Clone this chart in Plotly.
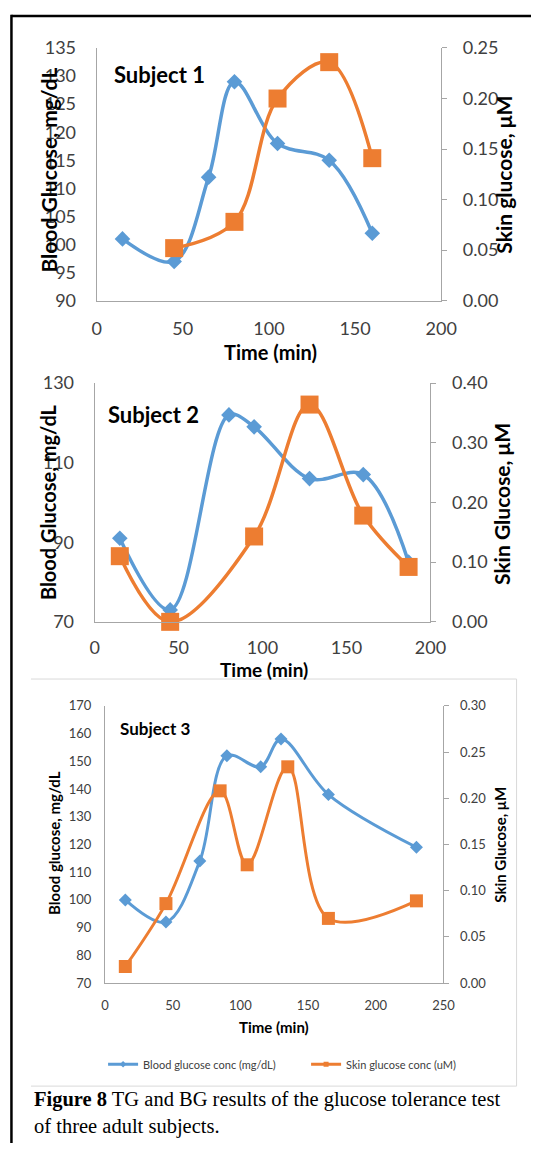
import plotly.graph_objects as go

W, H = 547, 1153

# ---------------- data ----------------
# Subject 1
s1_bg_time = [15, 45, 65, 80, 105, 135, 160]
s1_bg = [101, 97, 112, 129, 118, 115, 102]
s1_sg_time = [45, 80, 105, 135, 160]
s1_sg = [0.052, 0.078, 0.200, 0.236, 0.141]

# Subject 2
s2_bg_time = [15, 45, 80, 95, 128, 160, 187]
s2_bg = [91, 73, 122, 119, 106, 107, 85]
s2_sg_time = [15, 45, 95, 128, 160, 187]
s2_sg = [0.110, 0.000, 0.143, 0.364, 0.178, 0.092]

# Subject 3
s3_bg_time = [15, 45, 70, 90, 115, 130, 165, 230]
s3_bg = [100, 92, 114, 152, 148, 158, 138, 119]
s3_sg_time = [15, 45, 85, 105, 135, 165, 230]
s3_sg = [0.018, 0.086, 0.208, 0.128, 0.234, 0.070, 0.089]

# tick labels
p1_left_ticks = [90, 95, 100, 105, 110, 115, 120, 125, 130, 135]
p1_right_ticks = [0.00, 0.05, 0.10, 0.15, 0.20, 0.25]
p2_left_ticks = [70, 90, 110, 130]
p2_right_ticks = [0.00, 0.10, 0.20, 0.30, 0.40]
p3_left_ticks = [70, 80, 90, 100, 110, 120, 130, 140, 150, 160, 170]
p3_right_ticks = [0.00, 0.05, 0.10, 0.15, 0.20, 0.25, 0.30]
p12_x_ticks = [0, 50, 100, 150, 200]
p3_x_ticks = [0, 50, 100, 150, 200, 250]

legend_names = ["Blood glucose conc (mg/dL)", "Skin glucose conc (uM)"]

BLUE = "#5B9BD5"
ORANGE = "#ED7D31"
AX = "#A6A6A6"
TICK = "#404040"
FONT = "Lato"


def fx(px):
    return px / W


def fy(py):
    return 1 - py / H


fig = go.Figure()

# ---------------- traces ----------------
def add_pair(bt, bv, st, sv, xa, ya_l, ya_r, dsize, ssize, lw):
    fig.add_trace(go.Scatter(
        x=bt, y=bv, xaxis=xa, yaxis=ya_l, mode="lines+markers",
        line=dict(color=BLUE, width=lw, shape="spline", smoothing=1.0),
        marker=dict(symbol="diamond", size=dsize, color=BLUE),
        showlegend=False, cliponaxis=False))
    fig.add_trace(go.Scatter(
        x=st, y=sv, xaxis=xa, yaxis=ya_r, mode="lines+markers",
        line=dict(color=ORANGE, width=lw, shape="spline", smoothing=1.0),
        marker=dict(symbol="square", size=ssize, color=ORANGE),
        showlegend=False, cliponaxis=False))


add_pair(s1_bg_time, s1_bg, s1_sg_time, s1_sg, "x", "y", "y2", 12, 18, 3.5)
add_pair(s2_bg_time, s2_bg, s2_sg_time, s2_sg, "x2", "y3", "y4", 12, 18, 3.5)
add_pair(s3_bg_time, s3_bg, s3_sg_time, s3_sg, "x3", "y5", "y6", 10, 13, 3)

# legend-only entries (small symbols like the original legend)
fig.add_trace(go.Scatter(
    x=[None], y=[None], xaxis="x3", yaxis="y5", mode="lines+markers",
    name=legend_names[0], line=dict(color=BLUE, width=3),
    marker=dict(symbol="diamond", size=5, color=BLUE), showlegend=True))
fig.add_trace(go.Scatter(
    x=[None], y=[None], xaxis="x3", yaxis="y6", mode="lines+markers",
    name=legend_names[1], line=dict(color=ORANGE, width=3),
    marker=dict(symbol="square", size=5, color=ORANGE), showlegend=True))


# ---------------- axes ----------------
def xax(dom, rng, ticks, anchor, fs, standoff):
    return dict(domain=[fx(dom[0]), fx(dom[1])], range=rng, anchor=anchor,
                tickvals=ticks, showline=True, linecolor=AX, linewidth=1,
                ticks="", showgrid=False, zeroline=False,
                tickfont=dict(family=FONT, size=fs, color=TICK),
                ticklabelstandoff=standoff, fixedrange=True)


def yl(dom, rng, ticks, anchor, fs, standoff):
    return dict(domain=[fy(dom[1]), fy(dom[0])], range=rng, anchor=anchor,
                tickvals=ticks, showline=True, linecolor=AX, linewidth=1,
                ticks="", showgrid=False, zeroline=False,
                tickfont=dict(family=FONT, size=fs, color=TICK),
                ticklabelstandoff=standoff, fixedrange=True)


def yr(rng, ticks, anchor, overlay, fs, standoff):
    return dict(range=rng, anchor=anchor, overlaying=overlay, side="right",
                tickvals=ticks, tickformat=".2f", showline=True, linecolor=AX,
                linewidth=1, ticks="outside", ticklen=5, tickcolor=AX,
                showgrid=False, zeroline=False,
                tickfont=dict(family=FONT, size=fs, color=TICK),
                ticklabelstandoff=standoff, fixedrange=True)


P1 = dict(x=(95.3, 453.6), y=(36.7, 294.3))
P2 = dict(x=(93.2, 442.4), y=(378.3, 621.7))
P3 = dict(x=(104.0, 456.0), y=(707.3, 990.0))

fig.update_layout(
    xaxis=xax(P1["x"], [0, 200], p12_x_ticks, "y", 18, 12),
    yaxis=yl(P1["y"], [90, 135], p1_left_ticks, "x", 18, 16),
    yaxis2=yr([0, 0.25], p1_right_ticks, "x", "y", 18, 12),
    xaxis2=xax(P2["x"], [0, 200], p12_x_ticks, "y3", 18, 10),
    yaxis3=yl(P2["y"], [70, 130], p2_left_ticks, "x2", 18, 16),
    yaxis4=yr([0, 0.40], p2_right_ticks, "x2", "y3", 18, 12),
    xaxis3=xax(P3["x"], [0, 250], p3_x_ticks, "y5", 13, 10),
    yaxis5=yl(P3["y"], [70, 170], p3_left_ticks, "x3", 13, 10),
    yaxis6=yr([0, 0.30], p3_right_ticks, "x3", "y5", 13, 8),
)

# ---------------- annotations ----------------
ann = []


def text(px, py, s, size, bold=True, angle=0, color="#000000", xanchor="center",
         family=FONT):
    ann.append(dict(x=fx(px), y=fy(py), xref="paper", yref="paper",
                    text=f"<b>{s}</b>" if bold else s, showarrow=False,
                    textangle=angle, xanchor=xanchor, yanchor="middle",
                    font=dict(family=family, size=size, color=color)))


# Subject 1
text(111, 64, "Subject 1", 22, xanchor="left")
text(275.6, 347, "Time (min)", 20)
text(45.4, 161, "Blood Glucose, mg/dL", 21, angle=-90)
text(518.8, 166, "Skin glucose, μM", 21, angle=-90)
# Subject 2
text(104.7, 410, "Subject 2", 22, xanchor="left")
text(269.5, 670, "Time (min)", 19)
text(45.4, 500, "Blood Glucose, mg/dL", 20, angle=-90)
text(516.4, 502, "Skin Glucose, μM", 21, angle=-90)
# Subject 3
text(118, 730, "Subject 3", 17, xanchor="left")
text(279.5, 1035, "Time (min)", 15)
text(51.6, 847.5, "Blood glucose, mg/dL", 15, angle=-90)
text(514.7, 849, "Skin Glucose, μM", 15, angle=-90)

# caption
ann.append(dict(x=fx(28), y=fy(1122.5), xref="paper", yref="paper",
                text="<b>Figure 8</b> TG and BG results of the glucose tolerance test"
                     "<br>of three adult subjects.",
                showarrow=False, xanchor="left", yanchor="middle", align="left",
                font=dict(family="Liberation Serif", size=20.5, color="#000000")))

# ---------------- shapes (page frame) ----------------
shapes = [
    dict(type="line", xref="paper", yref="paper", x0=fx(6.7), x1=fx(547),
         y0=fy(4), y1=fy(4), line=dict(color="#000000", width=2.5)),
    dict(type="line", xref="paper", yref="paper", x0=fx(6.7), x1=fx(6.7),
         y0=fy(2.8), y1=fy(1153), line=dict(color="#000000", width=2.5)),
    dict(type="line", xref="paper", yref="paper", x0=fx(27), x1=fx(532),
         y0=fy(680), y1=fy(680), line=dict(color="#D9D9D9", width=1)),
    dict(type="line", xref="paper", yref="paper", x0=fx(532), x1=fx(532),
         y0=fy(680), y1=fy(1095), line=dict(color="#D9D9D9", width=1)),
    dict(type="line", xref="paper", yref="paper", x0=fx(27), x1=fx(532),
         y0=fy(1095), y1=fy(1095), line=dict(color="#D9D9D9", width=1)),
]

fig.update_layout(
    width=W, height=H,
    margin=dict(l=0, r=0, t=0, b=0),
    paper_bgcolor="white", plot_bgcolor="white",
    annotations=ann, shapes=shapes,
    showlegend=True,
    legend=dict(orientation="h", x=fx(102), y=fy(1072.7), xanchor="left",
                yanchor="middle", font=dict(family=FONT, size=11, color=TICK),
                bgcolor="rgba(0,0,0,0)", itemclick=False, itemdoubleclick=False,
                entrywidth=158, entrywidthmode="pixels"),
)

fig.write_html(
    "out.html",
    config={"displayModeBar": False},
    post_script="document.body.style.margin='0';"
                "document.body.style.overflow='hidden';",
)
